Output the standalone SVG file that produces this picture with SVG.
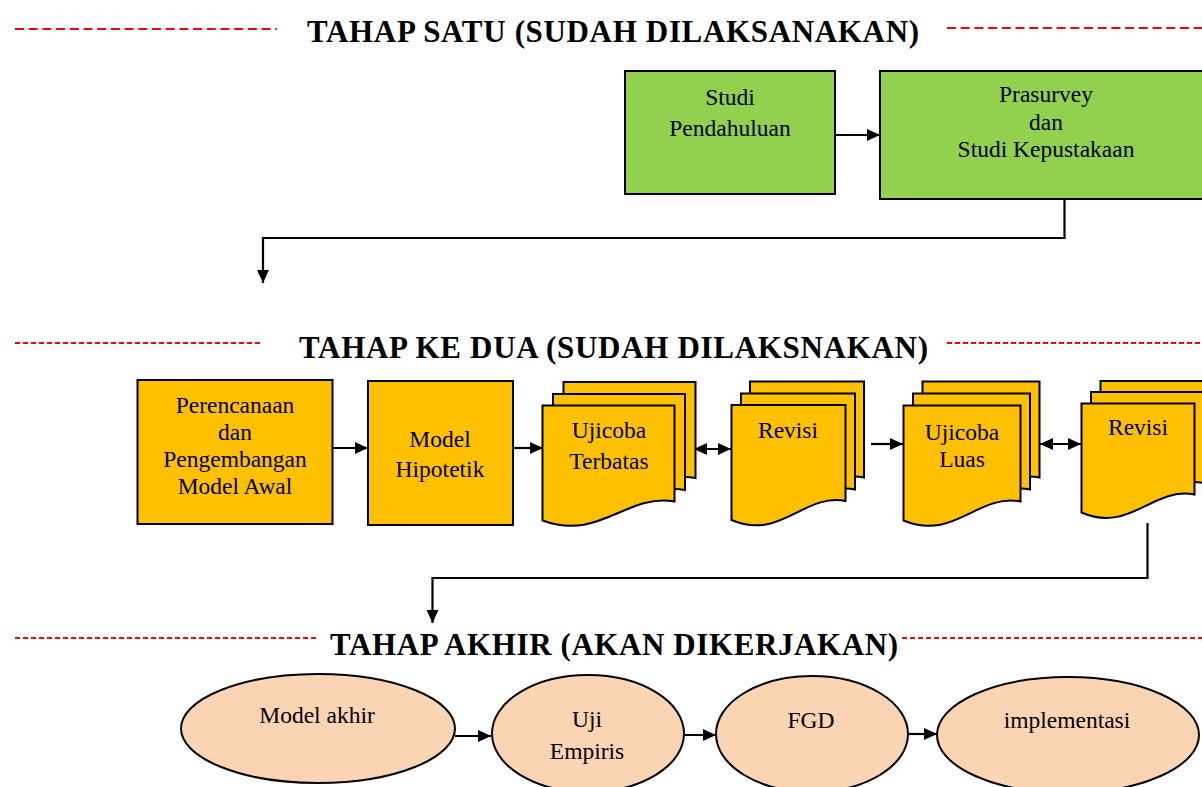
<svg xmlns="http://www.w3.org/2000/svg" width="1202" height="787" viewBox="0 0 1202 787">
<defs>
<style>
text{font-family:'Liberation Serif','Times New Roman',Times,serif}
.title{font-weight:bold;font-size:31px;fill:#000}
.t{font-size:23.5px;fill:#000;text-anchor:middle}
.red1{stroke:#FF0000;stroke-width:2;stroke-dasharray:9 4.7;fill:none}
.red2{stroke:#FF0000;stroke-width:2;stroke-dasharray:5 3;fill:none}
.green{fill:#92D050;stroke:#000;stroke-width:2}
.orange{fill:#FFC000;stroke:#000;stroke-width:2}
.peach{fill:#FBD4B4;stroke:#000;stroke-width:2}
.conn{stroke:#000;stroke-width:2.2;fill:none}
</style>
<marker id="ah" markerUnits="userSpaceOnUse" markerWidth="14" markerHeight="14" refX="13" refY="7" orient="auto-start-reverse">
<path d="M0,1 L13,7 L0,13 Z" fill="#000"/>
</marker>
</defs>
<rect width="1202" height="787" fill="#fff"/>

<g id="headers" font-family="Liberation Serif, serif">
<line class="red1" x1="15" y1="29" x2="277" y2="29"/>
<text class="title" x="307" y="42" textLength="612" lengthAdjust="spacing">TAHAP SATU (SUDAH DILAKSANAKAN)</text>
<line class="red1" x1="947" y1="28" x2="1202" y2="28"/>
<line class="red2" x1="15" y1="343" x2="260" y2="343"/>
<text class="title" x="299" y="358" textLength="629" lengthAdjust="spacing">TAHAP KE DUA (SUDAH DILAKSNAKAN)</text>
<line class="red2" x1="947" y1="343" x2="1202" y2="343"/>
<line class="red2" x1="15" y1="638" x2="318" y2="638"/>
<text class="title" x="330" y="655" textLength="568" lengthAdjust="spacing">TAHAP AKHIR (AKAN DIKERJAKAN)</text>
<line class="red2" x1="902" y1="638" x2="1202" y2="638"/>
</g>

<g id="connectors">
<path class="conn" d="M835,135 H880" marker-end="url(#ah)"/>
<path class="conn" d="M1064.5,199 V238 H263 V283" marker-end="url(#ah)"/>
<path class="conn" d="M333,448 H368" marker-end="url(#ah)"/>
<path class="conn" d="M513,448 H543" marker-end="url(#ah)"/>
<path class="conn" d="M694,449 H731" marker-start="url(#ah)" marker-end="url(#ah)"/>
<path class="conn" d="M871,444 H903" marker-end="url(#ah)"/>
<path class="conn" d="M1040,444 H1081" marker-start="url(#ah)" marker-end="url(#ah)"/>
<path class="conn" d="M1147.5,523 V578 H432.5 V623" marker-end="url(#ah)"/>
<path class="conn" d="M455,736 H491" marker-end="url(#ah)"/>
<path class="conn" d="M683.5,735 H716" marker-end="url(#ah)"/>
<path class="conn" d="M907.5,734 H937" marker-end="url(#ah)"/>
</g>

<g id="studi-pendahuluan">
<rect class="green" x="625" y="71" width="210" height="123"/>
<text class="t" x="730" y="105">Studi</text>
<text class="t" x="730" y="136">Pendahuluan</text>
</g>
<g id="prasurvey">
<rect class="green" x="880" y="71" width="332" height="128"/>
<text class="t" x="1046" y="102">Prasurvey</text>
<text class="t" x="1046" y="130">dan</text>
<text class="t" x="1046" y="157">Studi Kepustakaan</text>
</g>

<g id="perencanaan">
<rect class="orange" x="137.5" y="380" width="195" height="144"/>
<text class="t" x="235" y="413">Perencanaan</text>
<text class="t" x="235" y="440">dan</text>
<text class="t" x="235" y="467">Pengembangan</text>
<text class="t" x="235" y="494">Model Awal</text>
</g>
<g id="model-hipotetik">
<rect class="orange" x="368" y="381" width="145" height="144"/>
<text class="t" x="440" y="447">Model</text>
<text class="t" x="440" y="477">Hipotetik</text>
</g>

<g id="ujicoba-terbatas">
<path class="orange" d="M563.5,382 H695.5 V478 C646.7,470 620.3,518 563.5,497 Z"/>
<path class="orange" d="M553,394 H685 V490 C636.2,482 609.8,530 553,509 Z"/>
<path class="orange" d="M542.5,405.5 H674.5 V501.5 C625.7,493.5 599.3,541.5 542.5,520.5 Z"/>
<text class="t" x="609" y="438">Ujicoba</text>
<text class="t" x="609" y="469">Terbatas</text>
</g>
<g id="revisi-1">
<path class="orange" d="M750,381.5 H864 V477.5 C821.8,469.5 799,517.5 750,496.5 Z"/>
<path class="orange" d="M741,393.5 H855 V489.5 C812.8,481.5 790,529.5 741,508.5 Z"/>
<path class="orange" d="M731.5,405 H845.5 V501 C803.3,493 780.5,541 731.5,520 Z"/>
<text class="t" x="788" y="438">Revisi</text>
</g>
<g id="ujicoba-luas">
<path class="orange" d="M922.5,381.5 H1039.5 V477.5 C996.2,469.5 972.8,517.5 922.5,496.5 Z"/>
<path class="orange" d="M913,393.5 H1030 V489.5 C986.7,481.5 963.3,529.5 913,508.5 Z"/>
<path class="orange" d="M903.5,405.5 H1020.5 V501.5 C977.2,493.5 953.8,541.5 903.5,520.5 Z"/>
<text class="t" x="962" y="440">Ujicoba</text>
<text class="t" x="962" y="467">Luas</text>
</g>
<g id="revisi-2">
<path class="orange" d="M1100.5,381 H1213.5 V472 C1171.7,464 1149.1,511 1100.5,490 Z"/>
<path class="orange" d="M1091,392 H1204 V483 C1162.2,475 1139.6,522 1091,501 Z"/>
<path class="orange" d="M1081.5,403.5 H1194.5 V494.5 C1152.7,486.5 1130.1,533.5 1081.5,512.5 Z"/>
<text class="t" x="1138" y="435">Revisi</text>
</g>

<g id="model-akhir">
<ellipse class="peach" cx="318" cy="728.5" rx="137" ry="54.5"/>
<text class="t" x="317" y="723">Model akhir</text>
</g>
<g id="uji-empiris">
<ellipse class="peach" cx="588" cy="733.5" rx="96" ry="58.5"/>
<text class="t" x="587" y="727">Uji</text>
<text class="t" x="587" y="759">Empiris</text>
</g>
<g id="fgd">
<ellipse class="peach" cx="812" cy="734" rx="96" ry="58"/>
<text class="t" x="811" y="728">FGD</text>
</g>
<g id="implementasi">
<ellipse class="peach" cx="1068" cy="735" rx="131" ry="58"/>
<text class="t" x="1067" y="728">implementasi</text>
</g>
</svg>
